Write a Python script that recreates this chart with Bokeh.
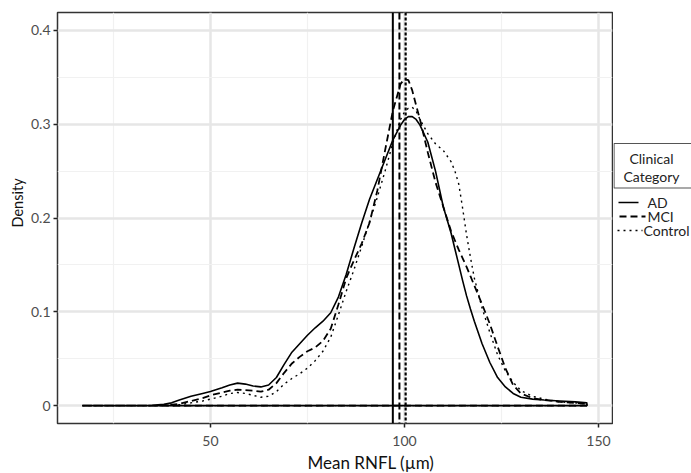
from bokeh.plotting import figure
from bokeh.layouts import row
from bokeh.models import FixedTicker, Span, Range1d, Title
from bokeh.embed import file_html
from bokeh.resources import INLINE
from bokeh.core.properties import value

# ---- data ----
rnfl = [17, 25, 35, 38, 40, 42, 45, 48, 50, 53, 55, 57, 59, 61, 63, 65, 67, 69, 71, 73,
        75, 77, 79, 81, 83, 85, 87, 89, 91, 93, 95, 97, 99, 100, 101, 102, 103, 104, 106, 108,
        110, 112, 113, 114, 115, 116, 117, 118, 120, 122, 124, 126, 128, 130, 133, 136, 140, 144, 147]

dens_ad = [0, 0, 0.0005, 0.0015, 0.003, 0.006, 0.010, 0.013, 0.015, 0.019, 0.022, 0.024, 0.023, 0.021, 0.020, 0.022, 0.030, 0.044, 0.057, 0.066,
           0.075, 0.083, 0.090, 0.099, 0.116, 0.140, 0.168, 0.195, 0.220, 0.241, 0.262, 0.283, 0.299, 0.305, 0.308, 0.308, 0.305, 0.299, 0.281, 0.250,
           0.212, 0.184, 0.167, 0.150, 0.133, 0.117, 0.103, 0.090, 0.066, 0.046, 0.030, 0.020, 0.013, 0.009, 0.007, 0.006, 0.005, 0.004, 0.003]

dens_mci = [0, 0, 0, 0.0005, 0.001, 0.002, 0.005, 0.008, 0.011, 0.014, 0.016, 0.017, 0.0165, 0.016, 0.015, 0.017, 0.024, 0.035, 0.045, 0.052,
            0.058, 0.062, 0.069, 0.082, 0.108, 0.136, 0.155, 0.173, 0.195, 0.229, 0.272, 0.314, 0.343, 0.348, 0.347, 0.336, 0.320, 0.305, 0.270, 0.238,
            0.212, 0.186, 0.176, 0.166, 0.157, 0.148, 0.138, 0.128, 0.108, 0.087, 0.063, 0.040, 0.022, 0.013, 0.008, 0.006, 0.004, 0.003, 0.002]

dens_control = [0, 0, 0, 0, 0.0005, 0.001, 0.003, 0.005, 0.007, 0.010, 0.013, 0.014, 0.013, 0.011, 0.009, 0.010, 0.015, 0.023, 0.029, 0.034,
                0.040, 0.048, 0.058, 0.073, 0.097, 0.122, 0.145, 0.170, 0.196, 0.222, 0.250, 0.280, 0.305, 0.313, 0.317, 0.318, 0.314, 0.305, 0.290, 0.279,
                0.272, 0.260, 0.250, 0.236, 0.210, 0.182, 0.158, 0.136, 0.104, 0.078, 0.054, 0.037, 0.025, 0.016, 0.010, 0.007, 0.004, 0.003, 0.002]

categories = ["AD", "MCI", "Control"]
group_means = [97.0, 98.7, 100.3]

x_ticks = [50, 100, 150]
x_minor = [25, 75, 125]
y_ticks = [0, 0.1, 0.2, 0.3, 0.4]
y_minor = [0.05, 0.15, 0.25, 0.35]

FONT = "Lato"
TOP, BOTTOM = 12, 50

p = figure(width=613, height=473, output_backend="svg", toolbar_location=None,
           x_range=Range1d(10.6, 153.6), y_range=Range1d(-0.019, 0.419),
           min_border_left=57, min_border_right=1, min_border_top=TOP, min_border_bottom=BOTTOM)
p.background_fill_color = "white"
p.border_fill_color = "white"
p.outline_line_color = "#333333"
p.outline_line_width = 1.5

p.xaxis.ticker = FixedTicker(ticks=x_ticks, minor_ticks=x_minor)
p.yaxis.ticker = FixedTicker(ticks=y_ticks, minor_ticks=y_minor)
p.yaxis.major_label_overrides = {0: "0"}
for ax in (p.xaxis[0], p.yaxis[0]):
    ax.axis_line_color = None
    ax.major_tick_line_color = "#222222"
    ax.major_tick_line_width = 1.5
    ax.major_tick_out = 4
    ax.major_tick_in = 0
    ax.minor_tick_line_color = None
    ax.major_label_text_font = FONT
    ax.major_label_text_font_size = "14px"
    ax.major_label_text_color = "#4d4d4d"
p.xaxis.major_label_standoff = 8
p.yaxis.major_label_standoff = 3

for g in (p.xgrid[0], p.ygrid[0]):
    g.grid_line_color = "#e6e6e6"
    g.grid_line_width = 2.5
    g.minor_grid_line_color = "#f1f1f1"
    g.minor_grid_line_width = 1.2

# axis titles as side titles, shifted like the reference
p.add_layout(Title(text="Mean RNFL (µm)", align="left", offset=250, standoff=2,
                   text_font=FONT, text_font_size="17px", text_font_style="normal",
                   text_color="#111111"), "below")
p.add_layout(Title(text="Density", align="left", offset=196, standoff=4,
                   text_font=FONT, text_font_size="14.5px", text_font_style="normal",
                   text_color="#111111"), "left")

curve_styles = [("solid", 1.6), ("7 4", 1.8), ("2 4", 1.4)]
span_styles = [("solid", 2.0), ("7 3", 2.0), ("3 2", 2.2)]
series = [dens_ad, dens_mci, dens_control]

for dens, (dash, lw) in zip(series, curve_styles):
    xs = list(rnfl) + [rnfl[-1], rnfl[0]]
    ys = list(dens) + [0, 0]
    p.line(xs, ys, line_color="black", line_width=lw, line_dash=dash)

for m, (dash, lw) in zip(group_means, span_styles):
    p.add_layout(Span(location=m, dimension="height", line_color="black",
                      line_width=lw, line_dash=dash))

# ---- legend panel (ggplot-style, partly cut off at the window edge) ----
lg = figure(width=78, height=473, output_backend="svg", toolbar_location=None,
            x_range=Range1d(613, 691), y_range=Range1d(473 - BOTTOM, TOP),
            x_axis_location=None, y_axis_location=None,
            min_border_left=0, min_border_right=0, min_border_top=TOP, min_border_bottom=BOTTOM)
lg.grid.visible = False
lg.outline_line_color = None
lg.background_fill_color = "white"
lg.border_fill_color = "white"

lg.quad(left=[613.5], right=[705], top=[143], bottom=[187.5], fill_color=None,
        line_color="#555555", line_width=1.2)
lg.text(x=[651, 651], y=[158, 176], text=["Clinical", "Category"], text_align="center",
        text_baseline="middle", text_font=value(FONT), text_font_size="14px", text_color="#222222")

item_y = [202, 216, 230]
sample_x = [(618, 638), (619, 645), (617, 642)]
label_x = [647, 647, 643]
for cat, yy, (x0, x1), lx, (dash, lw) in zip(categories, item_y, sample_x, label_x, curve_styles):
    lg.line([x0, x1], [yy, yy], line_color="black", line_width=lw, line_dash=dash)
    lg.text(x=[lx], y=[yy], text=[cat], text_align="left", text_baseline="middle",
            text_font=value(FONT), text_font_size="14px", text_color="#222222")

layout = row(p, lg, spacing=0)
open("out.html", "w").write(file_html(layout, INLINE))
